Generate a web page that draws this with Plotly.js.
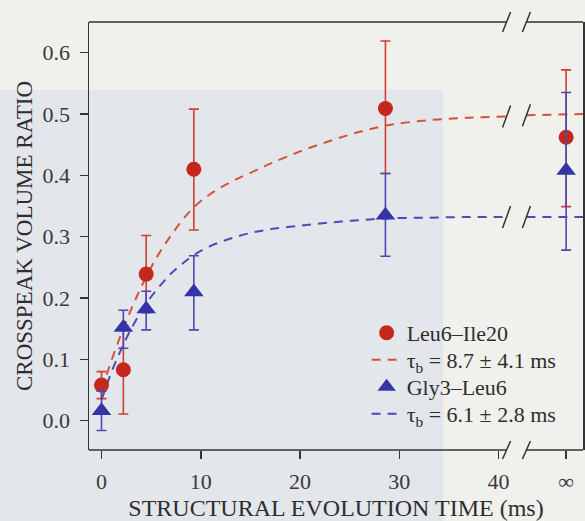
<!DOCTYPE html>
<html><head><meta charset="utf-8">
<script src="https://cdn.plot.ly/plotly-3.0.1.min.js"></script>
<style>html,body{margin:0;padding:0;background:#f0f0ed;} #chart{width:585px;height:521px;}</style>
</head><body><div id="chart"></div>
<script>
// ---- data ----
const timesMs = [0, 2.2, 4.5, 9.3, 28.6];            // finite evolution times
const INF_X = 46.8;                                   // where "∞" sits on the axis
const tickValuesMs = [0, 10, 20, 30, 40];
const tickLabels = ['0', '10', '20', '30', '40', '∞'];

const leuIleRatio   = [0.058, 0.083, 0.239, 0.410, 0.509, 0.462]; // last = ∞
const leuIleErrUp   = [0.022, 0.072, 0.063, 0.098, 0.110, 0.110];
const leuIleErrDown = [0.022, 0.072, 0.063, 0.099, 0.106, 0.113];

const glyLeuRatio   = [0.016, 0.152, 0.182, 0.210, 0.335, 0.408];
const glyLeuErrUp   = [0.032, 0.028, 0.029, 0.059, 0.068, 0.127];
const glyLeuErrDown = [0.032, 0.034, 0.034, 0.062, 0.067, 0.130];

// fitted curves
const fitTime   = [0, 1, 2, 3, 4, 5, 6, 7, 8, 9.3, 11, 13, 15, 17, 20, 23, 26, 29, 33, 37, 40.8];
const leuIleFit = [0.050, 0.098, 0.142, 0.182, 0.218, 0.250, 0.278, 0.302, 0.324, 0.348, 0.370, 0.389, 0.404, 0.419, 0.439, 0.456, 0.471, 0.482, 0.490, 0.494, 0.496];
const glyLeuFit = [0.034, 0.079, 0.117, 0.150, 0.178, 0.202, 0.222, 0.240, 0.254, 0.270, 0.285, 0.297, 0.306, 0.312, 0.318, 0.323, 0.327, 0.330, 0.331, 0.332, 0.332];
const fitTimeTail   = [42.8, 48.5];
const leuIleFitTail = [0.498, 0.500];
const glyLeuFitTail = [0.332, 0.332];

const legendNames = ['Leu6–Ile20', 'τ<sub>b</sub> = 8.7 ± 4.1 ms', 'Gly3–Leu6', 'τ<sub>b</sub> = 6.1 ± 2.8 ms'];

// ---- styling ----
const RED = '#c4281d', RED_ERR = '#cf3f34', RED_FIT = '#d8513a';
const BLUE = '#3434a6', BLUE_ERR = '#4a4ab2', BLUE_FIT = '#4b4bb8';
const INK = '#333333';
const FONT = 'Liberation Serif, Times New Roman, serif';
const X_RANGE = [-1.26, 48.5];
const Y_RANGE = [-0.0478, 0.650];
const BREAK_L = 40.8, BREAK_R = 42.8;

const xAll = timesMs.concat([INF_X]);

const traces = [
  {x: fitTime, y: leuIleFit, mode: 'lines', name: legendNames[1], legend: 'legend2',
   line: {color: RED_FIT, width: 2, dash: '9px,7px', shape: 'spline'}},
  {x: fitTimeTail, y: leuIleFitTail, mode: 'lines', showlegend: false,
   line: {color: RED_FIT, width: 2, dash: '9px,7px'}},
  {x: fitTime, y: glyLeuFit, mode: 'lines', name: legendNames[3], legend: 'legend4',
   line: {color: BLUE_FIT, width: 2, dash: '9px,7px', shape: 'spline'}},
  {x: fitTimeTail, y: glyLeuFitTail, mode: 'lines', showlegend: false,
   line: {color: BLUE_FIT, width: 2, dash: '9px,7px'}},
  {x: xAll, y: leuIleRatio, mode: 'markers', name: legendNames[0], legend: 'legend',
   marker: {symbol: 'circle', size: 15, color: RED},
   error_y: {type: 'data', symmetric: false, array: leuIleErrUp, arrayminus: leuIleErrDown,
             color: RED_ERR, thickness: 1.6, width: 5}},
  {x: xAll, y: glyLeuRatio, mode: 'markers', name: legendNames[2], legend: 'legend3',
   marker: {symbol: 'triangle-up', size: 17, color: BLUE},
   error_y: {type: 'data', symmetric: false, array: glyLeuErrUp, arrayminus: glyLeuErrDown,
             color: BLUE_ERR, thickness: 1.6, width: 5}}
];

function slash(xc, yc, yref, h) {
  return {type: 'line', layer: 'above', xref: 'x', yref: yref,
          xsizemode: 'pixel', xanchor: xc, x0: -4, x1: 4,
          ysizemode: 'pixel', yanchor: yc, y0: -h, y1: h,
          line: {color: INK, width: 1.5}};
}

const shapes = [
  // scanned-page panel tint
  {type: 'rect', layer: 'below', xref: 'paper', yref: 'paper', x0: -0.19, x1: 0.717, y0: -0.2, y1: 0.841,
   fillcolor: '#e3e6eb', line: {width: 0}},
  // top & bottom frame with the break
  {type: 'line', xref: 'x', yref: 'paper', x0: X_RANGE[0], x1: BREAK_L, y0: 1, y1: 1, line: {color: INK, width: 1.5}},
  {type: 'line', xref: 'x', yref: 'paper', x0: BREAK_R, x1: X_RANGE[1], y0: 1, y1: 1, line: {color: INK, width: 1.5}},
  {type: 'line', xref: 'x', yref: 'paper', x0: X_RANGE[0], x1: BREAK_L, y0: 0, y1: 0, line: {color: INK, width: 1.5}},
  {type: 'line', xref: 'x', yref: 'paper', x0: BREAK_R, x1: X_RANGE[1], y0: 0, y1: 0, line: {color: INK, width: 1.5}},
  slash(BREAK_L, 1, 'paper', 10), slash(BREAK_R, 1, 'paper', 10),
  slash(BREAK_L, 0, 'paper', 9), slash(BREAK_R, 0, 'paper', 9),
  slash(BREAK_L, leuIleFit[leuIleFit.length - 1], 'y', 11), slash(BREAK_R, leuIleFitTail[0], 'y', 11),
  slash(BREAK_L, glyLeuFit[glyLeuFit.length - 1], 'y', 11), slash(BREAK_R, glyLeuFitTail[0], 'y', 11)
];

const LEG_X = 0.562;
function legendBox(y) {
  return {x: LEG_X, y: y, xanchor: 'left', yanchor: 'middle', bgcolor: 'rgba(0,0,0,0)',
          borderwidth: 0, font: {family: FONT, size: 22, color: '#2e2e2e'}};
}

const layout = {
  width: 585, height: 521,
  margin: {l: 89, r: 2, t: 22, b: 71},
  paper_bgcolor: '#f0f0ed', plot_bgcolor: 'rgba(0,0,0,0)',
  font: {family: FONT, color: INK, size: 22},
  showlegend: true,
  legend: legendBox(0.2734),
  legend2: legendBox(0.2103),
  legend3: legendBox(0.1472),
  legend4: legendBox(0.0841),
  xaxis: {range: X_RANGE, showgrid: false, zeroline: false, showline: false,
          tickvals: tickValuesMs.concat([INF_X]), ticktext: tickLabels,
          ticks: 'outside', ticklen: 8, tickwidth: 1.5, tickcolor: INK, ticklabelstandoff: 4,
          tickfont: {family: FONT, size: 22, color: '#3a3a3a'},
          title: {text: 'STRUCTURAL EVOLUTION TIME (ms)', font: {family: FONT, size: 24, color: '#2e2e2e'}, standoff: 15}},
  yaxis: {range: Y_RANGE, showgrid: false, zeroline: false, showline: true, mirror: true,
          linecolor: INK, linewidth: 1.5,
          tickvals: [0, 0.1, 0.2, 0.3, 0.4, 0.5, 0.6], tickformat: '.1f',
          ticks: 'outside', ticklen: 8, tickwidth: 1.5, tickcolor: INK, ticklabelstandoff: 5,
          tickfont: {family: FONT, size: 22, color: '#3a3a3a'},
          title: {text: 'CROSSPEAK VOLUME RATIO', font: {family: FONT, size: 23, color: '#2e2e2e'}, standoff: 3}},
  shapes: shapes
};

Plotly.newPlot('chart', traces, layout, {staticPlot: true, displayModeBar: false});
</script></body></html>
